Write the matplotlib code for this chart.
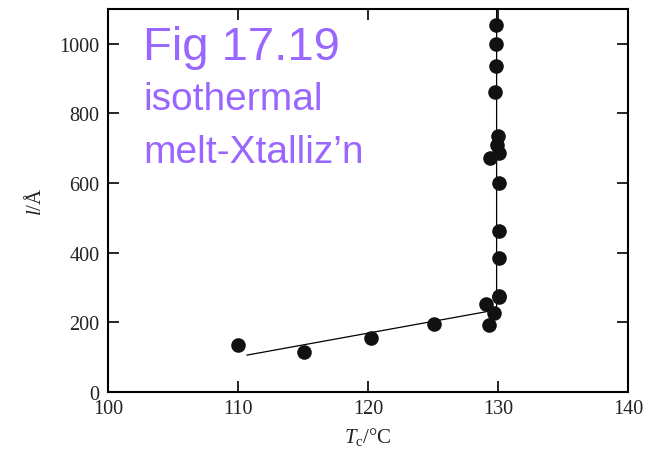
import numpy as np
import matplotlib
matplotlib.use('Agg')
import matplotlib.pyplot as plt

# lamellar thickness vs crystallization temperature
tc_low = [110.0, 115.1, 120.2, 125.1, 129.1, 129.3, 129.7, 130.1]
l_low = [136, 115, 155, 194, 252, 192, 227, 272]

tc_high = [129.85, 129.85, 129.85, 129.8, 130.0, 129.95, 130.05, 129.4,
           130.05, 130.05, 130.05, 130.05]
l_high = [1055, 998, 935, 862, 736, 708, 687, 672, 600, 463, 385, 275]

# guide lines drawn in the figure
fit_x = [110.7, 129.9, 129.9]
fit_y = [106, 236, 1100]

title_lines = ['Fig 17.19', 'isothermal', 'melt-Xtalliz\u2019n']

serif = 'Liberation Serif'
purple = '#9966ff'

plt.rcParams['mathtext.fontset'] = 'custom'
plt.rcParams['mathtext.it'] = 'Liberation Serif:italic'
plt.rcParams['mathtext.rm'] = 'Liberation Serif'

fig = plt.figure(figsize=(6.5, 4.52), dpi=100)
ax = fig.add_axes([0.166, 0.1305, 0.8, 0.8475])

ax.plot(fit_x, fit_y, color='black', lw=0.9, zorder=2)
ax.plot(tc_low + tc_high, l_low + l_high, 'o', color='#111111',
        markersize=10.5, markeredgewidth=0, zorder=3)

ax.set_xlim(100, 140)
ax.set_ylim(0, 1100)
ax.set_xticks([100, 110, 120, 130, 140])
ax.set_yticks([0, 200, 400, 600, 800, 1000])

ax.tick_params(direction='in', length=8, width=1.2, top=True, right=True,
               labelsize=14.5)
ax.tick_params(axis='x', pad=5)
ax.tick_params(axis='y', pad=6)
for lab in ax.get_xticklabels() + ax.get_yticklabels():
    lab.set_fontfamily(serif)
    lab.set_color('#222222')
for sp in ax.spines.values():
    sp.set_linewidth(1.5)

ax.set_xlabel(r'$T_\mathregular{c}$/°C', fontfamily=serif, fontsize=15,
              color='#222222', labelpad=5)
ax.set_ylabel(r'$l$/Å', fontfamily=serif, fontsize=15, color='#222222',
              labelpad=10)

# purple annotation in the upper left
fig.text(143 / 650, 1 - 60 / 452, title_lines[0], fontfamily='Liberation Sans',
         fontsize=34, color=purple, va='baseline')
fig.text(143 / 650, 1 - 110 / 452, title_lines[1], fontfamily='Liberation Sans',
         fontsize=28, color=purple, va='baseline')
fig.text(143 / 650, 1 - 163 / 452, title_lines[2], fontfamily='Liberation Sans',
         fontsize=28, color=purple, va='baseline')

fig.savefig('out.png', dpi=100)
